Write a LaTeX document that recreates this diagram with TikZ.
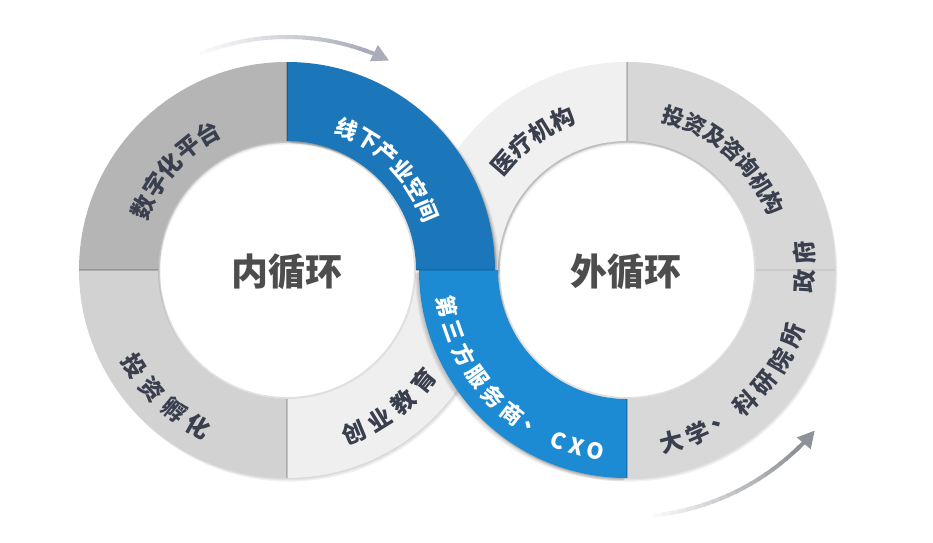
\documentclass[tikz,border=0pt]{standalone}
\usepackage{fontspec}
\newfontfamily\cjk{Noto Sans CJK SC}
\usetikzlibrary{calc,arrows.meta}
\definecolor{segA}{HTML}{B5B5B5}
\definecolor{segB}{HTML}{D2D2D2}
\definecolor{segC}{HTML}{EFEFEF}
\definecolor{segD}{HTML}{F0F0F0}
\definecolor{segE}{HTML}{D7D7D7}
\definecolor{segF}{HTML}{D8D8D8}
\definecolor{blueDark}{HTML}{1B76BA}
\definecolor{blueLight}{HTML}{1D8BD3}
\definecolor{labeldark}{HTML}{3A3F4E}
\definecolor{centerdark}{HTML}{4D4D4D}
\definecolor{arrowA}{HTML}{A8ADB9}
\definecolor{arrowB}{HTML}{8E9298}
\newcommand\annseg[6]{\path[#6] ($(#1)+(#2:#4)$) arc[start angle=#2,end angle=#3,radius=#4] -- ($(#1)+(#3:#5)$) arc[start angle=#3,end angle=#2,radius=#5] -- cycle;}
\newcommand\arcword[6]{% #1 prefix, #2 centre, #3 radius, #4 rotation offset, #5 style, #6 list char/angle
  \foreach \ch/\ang [count=\k] in {#6} {
    \pgfmathsetmacro\rot{\ang+#4}
    \node[#5, rotate=\rot] (#1-\k) at ($(#2)+(\ang:#3)$) {\ch};
  }}
\begin{document}
\begin{tikzpicture}[x=1pt,y=1pt,
  segtext/.style={inner sep=0pt, text=labeldark, font=\cjk\bfseries\fontsize{23.5}{23.5}\selectfont},
  segsmall/.style={segtext, font=\cjk\bfseries\fontsize{22}{22}\selectfont},
  whitetext/.style={segtext, text=white, font=\cjk\bfseries\fontsize{22}{22}\selectfont},
  centertext/.style={inner sep=0pt, text=centerdark, font=\cjk\bfseries\fontsize{37}{37}\selectfont},
  divider/.style={draw=black, opacity=0.18, line width=1.2pt},
  softshadow/.style={fill=black, opacity=0.05, even odd rule}]
\useasboundingbox (0,0) rectangle (933,542);
\fill[white] (0,0) rectangle (933,542);
\coordinate (L) at (287,272);
\coordinate (R) at (627,272);

% ---- top arrow (fading in) ----
\foreach \i in {0,...,21} {
  \pgfmathsetmacro\aa{114-\i*2}
  \pgfmathsetmacro\pc{\i*100/21}
  \draw[line width=4pt, arrowA!\pc!white] ($(L)+(\aa:233)$) arc[start angle=\aa, end angle=\aa-2.3, radius=233];
}
\coordinate (topA) at ($(L)+(71:233)$);
\draw[line width=4pt, arrowA, -{Triangle[length=17pt,width=17pt]}] (topA) arc[start angle=71, end angle=64, radius=233];

% ---- bottom arrow (fading in) ----
\foreach \i in {0,...,19} {
  \pgfmathsetmacro\aa{-86+\i*2}
  \pgfmathsetmacro\pc{\i*100/19}
  \draw[line width=4pt, arrowB!\pc!white] ($(R)+(\aa:247)$) arc[start angle=\aa, end angle=\aa+2.3, radius=247];
}
\coordinate (botA) at ($(R)+(-47:247)$);
\draw[line width=4pt, arrowB, -{Triangle[length=17pt,width=17pt]}] (botA) arc[start angle=-47, end angle=-40.5, radius=247];

% ---- right ring (grey parts) ----
\foreach \s in {1,2,3} {\fill[softshadow] ($(R)+(0.8*\s,-1.2*\s)$) circle (208) circle (129);}
\annseg{R}{90}{180}{208}{129}{fill=segD}
\annseg{R}{0}{90}{208}{129}{fill=segE}
\annseg{R}{-90}{0}{208}{129}{fill=segF}

% ---- left ring ----
\foreach \s in {1,2,3} {\fill[softshadow] ($(L)+(0.8*\s,-1.2*\s)$) circle (208) circle (129);}
\annseg{L}{90}{180}{208}{129}{fill=segA}
\annseg{L}{180}{270}{208}{129}{fill=segB}
\annseg{L}{270}{360}{208}{129}{fill=segC}
\foreach \s in {1,2,3,4} {\annseg{$(L)+(1.2*\s,-0.8*\s)$}{0}{90}{208}{129}{softshadow}}
\annseg{L}{0}{90}{208}{129}{fill=blueDark}

% ---- right blue quadrant on top ----
\foreach \s in {1,2,3,4} {\annseg{$(R)+(-1.0*\s,-0.8*\s)$}{180}{270}{208}{129}{softshadow}}
\annseg{R}{180}{270}{208}{129}{fill=blueLight}

% ---- dividers ----
\draw[divider] ($(L)+(180:129)$) -- ($(L)+(180:208)$);
\draw[divider] ($(L)+(270:129)$) -- ($(L)+(270:208)$);
\draw[divider] ($(L)+(90:129)$) -- ($(L)+(90:208)$);
\draw[divider] ($(R)+(90:129)$) -- ($(R)+(90:208)$);
\draw[divider, opacity=0.06] ($(R)+(0:129)$) -- ($(R)+(0:208)$);
\draw[divider] ($(R)+(270:129)$) -- ($(R)+(270:208)$);
\draw[divider, opacity=0.12] ($(L)+(0:129)$) -- ($(L)+(0:208)$);

% inner rims
\draw[black, opacity=0.12, line width=2pt] (L) circle (128);
\draw[black, opacity=0.12, line width=2pt] (R) circle (128);

% ---- centre texts ----
\node[centertext] (inner) at (287,270) {内循环};
\node[centertext] (outer) at (626,270) {外循环};

% ---- ring labels ----
\arcword{sz}{L}{157}{-90}{segtext}{数/156.4,字/147.3,化/138.2,平/129.1,台/120}
\arcword{xx}{L}{153}{-90}{whitetext}{线/67,下/58.2,产/49.4,业/40.6,空/31.8,间/23}
\arcword{tz}{L}{180}{90}{segtext}{投/212,资/221.5,孵/231,化/240.5}
\arcword{cy}{L}{176}{90}{segtext}{创/292.4,业/301.9,教/311.4,育/320.9}
\arcword{yl}{R}{164}{-90}{segtext}{医/139,疗/130.3,机/121.6,构/113}
\arcword{zx}{R}{160}{-90}{segsmall}{投/73,资/64.9,及/56.8,咨/48.8,询/40.7,机/32.6,构/24.6}
\arcword{dx}{R}{178}{90}{segtext}{大/284.5,学/293.5,、/302.5,科/311.5,研/320.5,院/329.5,所/338.5,政/356.5,府/365.5}
\arcword{ds}{R}{184}{90}{whitetext}{第/191.5,三/199.5,方/207.5,服/215.5,务/223.5,商/231.5,、/239.5,C/248,X/254,O/260}
\end{tikzpicture}
\end{document}
